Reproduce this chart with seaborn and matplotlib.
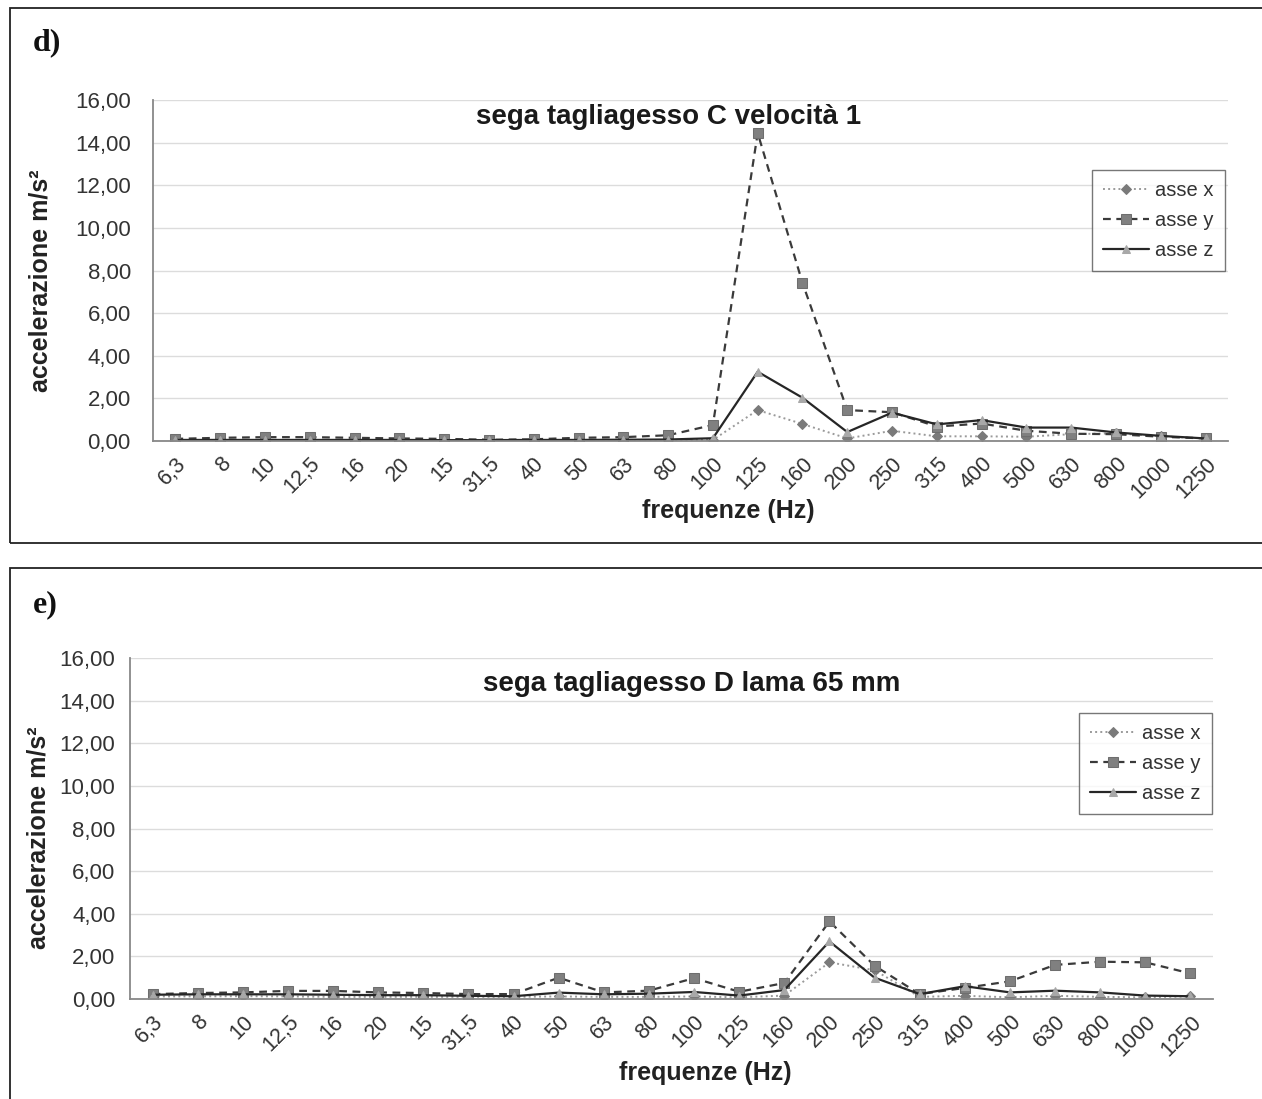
import numpy as np
import matplotlib
matplotlib.use("Agg")
import matplotlib.pyplot as plt
import seaborn as sns
from matplotlib.patches import Rectangle
from matplotlib.ticker import FuncFormatter, FixedLocator

# frequency bands (labels as printed, including the "15" between 20 and 31,5)
freq_labels = ["6,3", "8", "10", "12,5", "16", "20", "15", "31,5", "40", "50", "63", "80",
               "100", "125", "160", "200", "250", "315", "400", "500", "630", "800", "1000", "1250"]

# d) sega tagliagesso C velocità 1
d_asse_x = [0.03, 0.03, 0.03, 0.03, 0.03, 0.03, 0.03, 0.03, 0.03, 0.04, 0.04, 0.05,
            0.05, 1.45, 0.80, 0.12, 0.48, 0.22, 0.22, 0.20, 0.32, 0.36, 0.22, 0.12]
d_asse_y = [0.10, 0.15, 0.18, 0.18, 0.15, 0.12, 0.10, 0.06, 0.08, 0.15, 0.18, 0.27,
            0.75, 14.45, 7.42, 1.45, 1.35, 0.68, 0.82, 0.48, 0.34, 0.32, 0.20, 0.12]
d_asse_z = [0.05, 0.05, 0.05, 0.05, 0.05, 0.05, 0.04, 0.04, 0.05, 0.05, 0.06, 0.07,
            0.13, 3.25, 2.03, 0.42, 1.33, 0.78, 0.98, 0.63, 0.63, 0.40, 0.24, 0.12]

# e) sega tagliagesso D lama 65 mm
e_asse_x = [0.12, 0.12, 0.13, 0.12, 0.10, 0.10, 0.10, 0.10, 0.10, 0.12, 0.10, 0.10,
            0.12, 0.08, 0.16, 1.72, 1.35, 0.10, 0.15, 0.08, 0.15, 0.10, 0.08, 0.12]
e_asse_y = [0.23, 0.28, 0.31, 0.38, 0.38, 0.31, 0.28, 0.23, 0.23, 1.00, 0.31, 0.39,
            0.98, 0.34, 0.75, 3.64, 1.56, 0.23, 0.52, 0.83, 1.60, 1.75, 1.72, 1.20]
e_asse_z = [0.20, 0.22, 0.22, 0.22, 0.20, 0.18, 0.18, 0.15, 0.13, 0.30, 0.22, 0.25,
            0.33, 0.16, 0.42, 2.70, 1.00, 0.23, 0.60, 0.31, 0.39, 0.31, 0.16, 0.13]

sns.set_style("white")
plt.rcParams['font.family'] = ['Liberation Sans', 'DejaVu Sans']

W, H = 1262, 1099
fig = plt.figure(figsize=(W / 100, H / 100), dpi=100)


def draw_panel(rect, title, title_xy, tag_xy, ylab_xy, xlab_xy, vx, vy, vz, legend_anchor,
               ytick_pad=10):
    ax = fig.add_axes(rect)
    pos = np.arange(len(freq_labels))

    sns.lineplot(x=pos, y=vx, ax=ax, sort=False, color="#9a9a9a", linestyle=":",
                 linewidth=1.4, marker="D", markersize=5, markerfacecolor="#7a7a7a",
                 markeredgecolor="#7a7a7a", label="asse x")
    sns.lineplot(x=pos, y=vy, ax=ax, sort=False, color="#3a3a3a", linestyle=(0, (3.5, 2.5)),
                 linewidth=1.6, marker="s", markersize=6.5, markerfacecolor="#808080",
                 markeredgecolor="#6e6e6e", label="asse y")
    sns.lineplot(x=pos, y=vz, ax=ax, sort=False, color="#262626", linestyle="-",
                 linewidth=1.6, marker="^", markersize=5.5, markerfacecolor="#a8a8a8",
                 markeredgecolor="#a8a8a8", label="asse z")

    ax.set_xlim(-0.5, len(freq_labels) - 0.5)
    ax.set_ylim(0, 16)
    ax.set_yticks(np.arange(0, 17, 2))
    ax.yaxis.set_major_formatter(FuncFormatter(lambda v, p: f"{v:.2f}".replace(".", ",")))
    ax.set_xticks(pos)
    ax.set_xticklabels(freq_labels, rotation=45, ha="right", rotation_mode="anchor")
    ax.xaxis.set_minor_locator(FixedLocator(np.arange(-0.5, len(freq_labels), 1.0)))
    ax.tick_params(axis="x", which="major", length=0, pad=9, labelsize=15.5, labelcolor="#333333")
    ax.tick_params(axis="x", which="minor", length=7, width=1.2, color="#888888", direction="out")
    ax.tick_params(axis="y", length=6, width=1.2, color="#888888", direction="out",
                   labelsize=16, labelcolor="#333333", pad=ytick_pad)

    ax.grid(axis="y", color="#dcdcdc", linewidth=1.0)
    ax.grid(axis="x", visible=False)
    ax.set_axisbelow(True)
    for s in ["top", "right"]:
        ax.spines[s].set_visible(False)
    for s in ["left", "bottom"]:
        ax.spines[s].set_color("#888888")
        ax.spines[s].set_linewidth(1.3)

    ax.set_xlabel("")
    ax.set_ylabel("")

    leg = ax.legend(loc="upper right", bbox_to_anchor=legend_anchor, fontsize=14.5,
                    frameon=True, fancybox=False, edgecolor="#555555", handlelength=2.3,
                    labelspacing=0.55, borderpad=0.55, handletextpad=0.3, borderaxespad=0)
    leg.get_frame().set_linewidth(1.0)
    for t in leg.get_texts():
        t.set_color("#333333")

    fig.text(title_xy[0] / W, 1 - title_xy[1] / H, title, fontsize=20, fontweight="bold",
             ha="center", va="center", color="#1a1a1a")
    fig.text(tag_xy[0] / W, 1 - tag_xy[1] / H, tag_xy[2], fontsize=23, fontweight="bold",
             family=["Liberation Serif", "DejaVu Serif"], ha="left", va="center", color="#111111")
    fig.text(ylab_xy[0] / W, 1 - ylab_xy[1] / H, "accelerazione m/s²", rotation=90,
             fontsize=18, fontweight="bold", ha="center", va="center", color="#222222")
    fig.text(xlab_xy[0] / W, 1 - xlab_xy[1] / H, "frequenze (Hz)",
             fontsize=18, fontweight="bold", ha="center", va="center", color="#222222")
    return ax


# panel frames
fig.add_artist(Rectangle((10 / W, 1 - 543 / H), 2, (543 - 8) / H, transform=fig.transFigure,
                         fill=False, linewidth=1.3, edgecolor="#222222"))
fig.add_artist(Rectangle((10 / W, -0.1), 2, (1 - 568 / H) + 0.1, transform=fig.transFigure,
                         fill=False, linewidth=1.3, edgecolor="#222222"))

draw_panel([153 / W, 1 - 441 / H, (1228 - 153) / W, 341 / H],
           "sega tagliagesso C velocità 1", (669, 117), (33, 43, "d)"), (41, 281), (728, 511),
           d_asse_x, d_asse_y, d_asse_z, (0.997, 0.795))
draw_panel([130 / W, 1 - 999 / H, (1213 - 130) / W, 341 / H],
           "sega tagliagesso D lama 65 mm", (692, 684), (33, 605, "e)"), (39, 838), (705, 1073),
           e_asse_x, e_asse_y, e_asse_z, (0.999, 0.84), ytick_pad=4.5)

fig.savefig("out.png", dpi=100)
